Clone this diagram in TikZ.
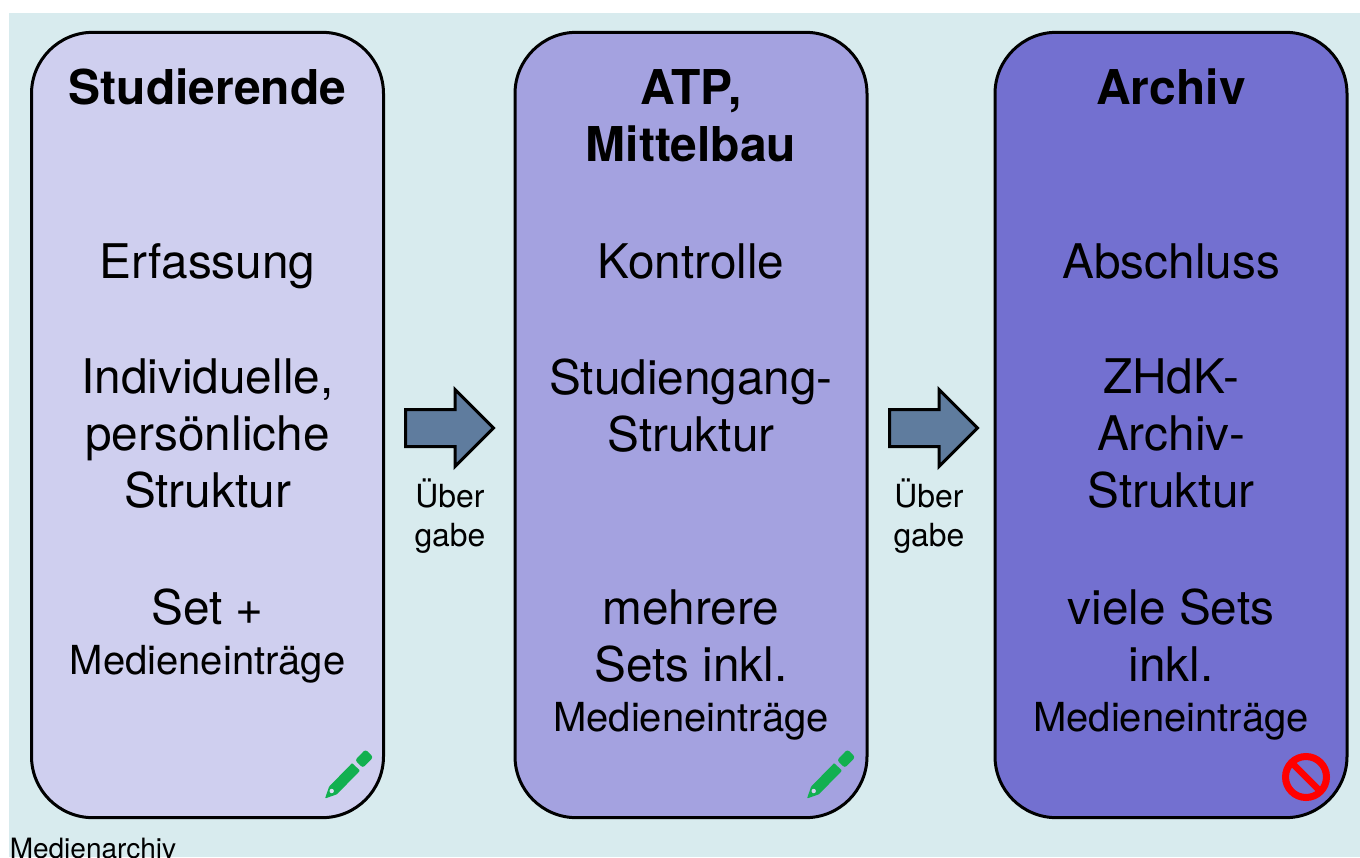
\documentclass[tikz,border=0pt]{standalone}
\usepackage{fontspec}
\setmainfont{TeX Gyre Heros}
\usetikzlibrary{shapes.arrows,positioning}

\definecolor{bgblue}{HTML}{D8EBEE}
\definecolor{paneone}{HTML}{CFCFEF}
\definecolor{panetwo}{HTML}{A4A2E0}
\definecolor{panethree}{HTML}{7370D0}
\definecolor{arrowblue}{HTML}{5F7C9E}
\definecolor{pencilgreen}{HTML}{12B050}

\newcommand{\bigfont}{\fontsize{35.8}{42.75}\selectfont}
\newcommand{\medfont}{\fontsize{30}{37}\selectfont}

\tikzset{
  pane/.style = {draw=black, line width=2.25pt, rounded corners=46pt, minimum width=264pt, minimum height=589pt},
  bodytext/.style = {align=center, inner sep=0pt, text=black, font=\bigfont},
  headtext/.style = {bodytext, font=\fontsize{36}{42.75}\selectfont\bfseries},
  arrowtext/.style = {bodytext, font=\fontsize{23.9}{29.25}\selectfont},
  blockarrow/.style = {single arrow, draw=black, line width=2.25pt, fill=arrowblue, anchor=tail, inner xsep=0pt, inner ysep=12.75pt,
    minimum height=66pt, minimum width=56pt, single arrow head extend=15pt, single arrow tip angle=90},
}

\begin{document}
\begin{tikzpicture}[x=0.75pt, y=-0.75pt]
  \useasboundingbox (0,0) rectangle (1360,857);
  \fill[bgblue] (9,13) rectangle (1360,857);

  \node[pane, fill=paneone] (studierende) at (207.5,425) {};
  \node[pane, fill=panetwo] (atp) at (691,425) {};
  \node[pane, fill=panethree] (archiv) at (1171,425) {};

  % first pane
  \node[headtext] (headone) at (207.5,87) {Studierende};
  \node[bodytext] (erfassung) at (207.5,266) {Erfassung};
  \node[bodytext] (persoenlich) at (207.5,434) {Individuelle,\\persönliche\\Struktur};
  \node[bodytext] (setone) at (207.5,636) {Set +\\[-5.25pt]\medfont Medieneinträge};

  % second pane
  \node[headtext] (headtwo) at (691,116) {ATP,\\Mittelbau};
  \node[bodytext] (kontrolle) at (691,261) {Kontrolle};
  \node[bodytext] (studiengang) at (691,406) {Studiengang-\\Struktur};
  \node[bodytext] (settwo) at (691,664.5) {mehrere\\Sets inkl.\\[-5.25pt]\medfont Medieneinträge};

  % third pane
  \node[headtext] (headthree) at (1171,87) {Archiv};
  \node[bodytext] (abschluss) at (1171,261) {Abschluss};
  \node[bodytext] (zhdk) at (1171,434) {ZHdK-\\Archiv-\\Struktur};
  \node[bodytext] (setthree) at (1171,664.5) {viele Sets\\inkl.\\[-5.25pt]\medfont Medieneinträge};

  % handover arrows
  \node[blockarrow] (arrowone) at (404,428) {};
  \node[blockarrow] (arrowtwo) at (888,428) {};
  \node[arrowtext] (uebergabeone) at (450,516.5) {Über\\gabe};
  \node[arrowtext] (uebergabetwo) at (929,516.5) {Über\\gabe};

  % pencils
  \foreach \dx/\dy in {0/0, 482/0}
  {
    \begin{scope}[shift={(\dx,\dy)}]
      \fill[pencilgreen, rounded corners=0.6pt] (325,798.5) -- (329.1,786.6) -- (352.2,763) -- (360,770.7) -- (336.9,794.3) -- cycle;
      \fill[pencilgreen, rounded corners=2pt] (355,760.2) -- (365.5,749.4) -- (373.3,757.2) -- (362.8,767.9) -- cycle;
    \end{scope}
  }
  \fill[paneone!70!white] (331.7,791) circle (2.2);
  \fill[panetwo!50!white] (813.7,791) circle (2.2);

  % not allowed sign
  \draw[red, line width=5.25pt] (1306,777) circle (20.5);
  \draw[red, line width=5pt] (1292,763) -- (1320,791);

  \node[anchor=base west, inner sep=0pt, font=\fontsize{21}{25}\selectfont] (medienarchiv) at (9.5,858) {Medienarchiv};
\end{tikzpicture}
\end{document}
